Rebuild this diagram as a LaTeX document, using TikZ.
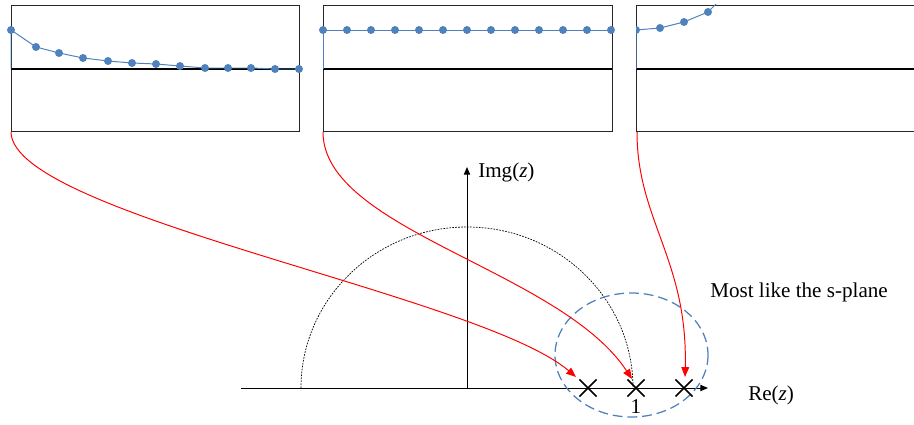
\documentclass[tikz,border=0pt]{standalone}
\usepackage{fontspec}
\setmainfont{Liberation Serif}
\usetikzlibrary{arrows.meta, shapes.misc, positioning}
\definecolor{PlotBlue}{HTML}{4F81BD}
\definecolor{MapRed}{HTML}{FF0000}
\definecolor{DarkText}{HTML}{000000}

\begin{document}
\begin{tikzpicture}[x=0.25mm, y=-0.25mm,
    panel/.style={draw=black!85, line width=0.7pt},
    zeroline/.style={line width=1.5pt},
    series/.style={PlotBlue, line width=0.7pt},
    maparrow/.style={MapRed, line width=0.7pt, -{Triangle[length=7pt, width=5.5pt]}},
    axis/.style={line width=0.7pt, -{Triangle[length=5.5pt, width=4.5pt]}},
    pole/.style={cross out, draw, line width=1.1pt, minimum size=11pt, inner sep=0pt},
    lbl/.style={font=\fontsize{15}{18}\selectfont, text=DarkText, inner sep=0pt}]
  \useasboundingbox (0,0) rectangle (914,425);

  % decaying response
  \draw[panel] (11,5) rectangle (299,131);
  \draw[zeroline] (11,69) -- (299,69);
  \draw[series] (11,69) -- (11,30) -- (36,47) -- (59,53) -- (83,58) -- (108,61) -- (132,63)
    -- (156,64) -- (180,66) -- (205,68) -- (228,68) -- (251,68) -- (275,69) -- (299,69);
  \foreach \px/\py in {11/30, 36/47, 59/53, 83/58, 108/61, 132/63, 156/64, 180/66,
                       205/68, 228/68, 251/68, 275/69, 299/69}
    \fill[PlotBlue] (\px,\py) circle[radius=4];

  % constant response
  \draw[panel] (323,5) rectangle (612,131);
  \draw[zeroline] (323,69) -- (612,69);
  \draw[series] (323,69) -- (323,30) -- (611,30);
  \foreach \i in {0,...,12}
    \fill[PlotBlue] (323+24*\i,30) circle[radius=4];

  % growing response
  \draw[panel] (636,5) rectangle (930,131);
  \draw[zeroline] (636,69) -- (930,69);
  \begin{scope}
    \clip (636,5) rectangle (930,131);
    \draw[series] (636,69) -- (636,30) -- (660,28) -- (684,22) -- (708,12) -- (732,-12);
    \foreach \px/\py in {636/30, 660/28, 684/22, 708/12}
      \fill[PlotBlue] (\px,\py) circle[radius=4];
  \end{scope}

  % z-plane
  \coordinate (origin) at (467,388);
  \coordinate (reend) at (708,388);
  \coordinate (restart) at (241,388);
  \coordinate (imend) at (467,167);
  \draw[dash pattern=on 1.2pt off 0.9pt, line width=0.5pt]
    (301,388) arc[start angle=180, end angle=360, x radius=166, y radius=161];
  \draw[axis] (restart) -- (reend);
  \draw[axis] (origin) -- (imend);
  \node[lbl, anchor=west] (imlbl) at (478,172) {Img(\textit{z})};
  \node[lbl, anchor=west] (relbl) at (748,395) {Re(\textit{z})};

  \draw[PlotBlue, line width=0.9pt, dash pattern=on 7pt off 3.5pt]
    (631.5,355) ellipse[x radius=76.5, y radius=62];
  \node[lbl, anchor=west] (note) at (710,292) {Most like the s-plane};

  \node[pole] (pinside) at (588,388) {};
  \node[pole] (punit) at (636,388) {};
  \node[pole] (poutside) at (684,388) {};
  \node[lbl, anchor=north] (onelbl) at (636,399) {1};

  % mapping arrows
  \coordinate (src1) at (11,132);
  \coordinate (src2) at (323,132);
  \coordinate (src3) at (637,132);
  \coordinate (dst1) at (576,377);
  \coordinate (dst2) at (632,379);
  \coordinate (dst3) at (685,377);
  \draw[maparrow] (src1) .. controls (12,215) and (480,295) .. (dst1);
  \draw[maparrow] (src2) .. controls (323,230) and (560,270) .. (dst2);
  \draw[maparrow] (src3) .. controls (637,220) and (688,260) .. (dst3);
\end{tikzpicture}
\end{document}
